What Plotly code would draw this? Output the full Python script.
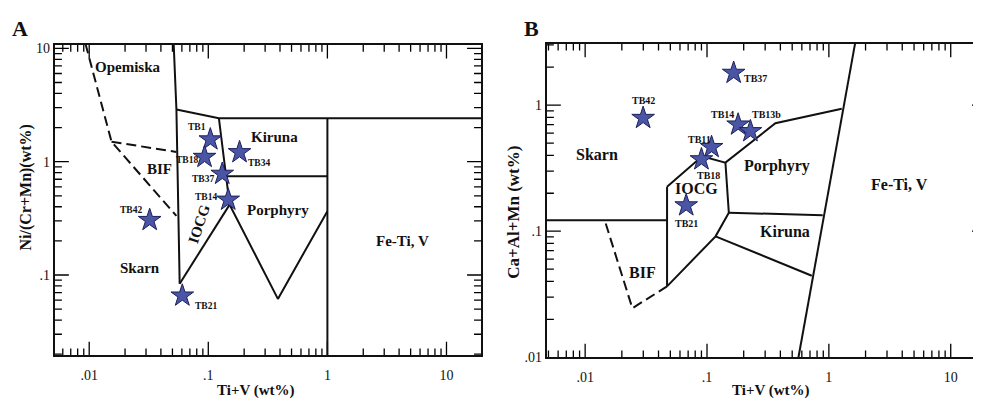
import numpy as np
import plotly.graph_objects as go

# ---------------- data ----------------
# Panel A : Ni/(Cr+Mn) vs Ti+V
a_samples = ["TB1", "TB18", "TB34", "TB37", "TB14", "TB42", "TB21"]
a_tiv = [0.104, 0.093, 0.183, 0.131, 0.147, 0.0322, 0.0605]
a_ni = [1.57, 1.10, 1.21, 0.78, 0.461, 0.305, 0.0657]

# Panel B : Ca+Al+Mn vs Ti+V
b_samples = ["TB37", "TB42", "TB14", "TB13b", "TB11", "TB18", "TB21"]
b_tiv = [0.1655, 0.0299, 0.180, 0.227, 0.109, 0.090, 0.0675]
b_caalmn = [1.80, 0.79, 0.70, 0.62, 0.464, 0.371, 0.160]

# field boundaries, panel A (solid)
a_solid = [
    ([0.0512, 0.054, 0.0575], [11.0, 2.89, 0.0838]),
    ([0.054, 0.1227, 25.0], [2.89, 2.42, 2.42]),
    ([0.1227, 0.151, 0.384, 1.0], [2.42, 0.418, 0.0615, 0.366]),
    ([0.0575, 0.151], [0.0838, 0.418]),
    ([0.141, 1.0], [0.744, 0.744]),
    ([1.0, 1.0], [2.42, 0.015]),
]
# field boundaries, panel A (dashed)
a_dash = [
    ([0.0093, 0.0154, 0.054], [11.0, 1.5, 0.332]),
    ([0.0154, 0.054], [1.5, 1.22]),
]
# field boundaries, panel B (solid)
b_solid = [
    ([0.004, 0.047], [0.122, 0.122]),
    ([0.047, 0.047], [0.225, 0.0365]),
    ([0.047, 0.0912, 0.1416, 0.364, 1.276], [0.225, 0.393, 0.350, 0.718, 0.937]),
    ([0.1416, 0.151, 0.1175, 0.047], [0.350, 0.140, 0.091, 0.0365]),
    ([0.151, 0.891], [0.140, 0.134]),
    ([0.1175, 0.724], [0.091, 0.0443]),
    ([0.563, 1.64], [0.0100, 3.07]),
]
# field boundaries, panel B (dashed)
b_dash = [
    ([0.01475, 0.0244, 0.047], [0.115, 0.0245, 0.0365]),
]

# field names
a_fields = ["Opemiska", "Kiruna", "BIF", "Porphyry", "Skarn", "Fe-Ti, V"]
a_field_x = [0.0212, 0.36, 0.0391, 0.384, 0.0266, 4.27]
a_field_y = [6.79, 1.64, 0.86, 0.371, 0.116, 0.199]
a_iocg = ("IOCG", 0.0836, 0.282)

b_fields = ["Skarn", "IOCG", "Porphyry", "Fe-Ti, V", "Kiruna", "BIF"]
b_field_x = [0.0124, 0.0815, 0.375, 3.83, 0.438, 0.0294]
b_field_y = [0.405, 0.218, 0.33, 0.234, 0.100, 0.047]

# tick labels
major_vals = [0.01, 0.1, 1, 10]
major_text = [".01", ".1", "1", "10"]
minor_vals = [m * 10.0 ** e for e in range(-3, 2) for m in range(2, 10)]

# ---------------- style / layout helpers ----------------
OFF = 8                      # default page margin of the browser body
FW, FH = 981 - OFF, 406 - OFF
SERIF = "Liberation Serif"
INK = "#111111"
STAR_FILL = "#4b55a6"
STAR_LINE = "#1c2157"
MAJ_LEN, MIN_LEN = 14, 7


def px(sx):
    return (sx - OFF) / FW


def py(sy):
    return 1 - (sy - OFF) / FH


# plot frames in screen pixels: left, right, top, bottom
A_BOX = (55, 482, 42, 362)
B_BOX = (548, 981, 40.7, 364)
ax_a, ay_a = [-2.288, 1.29], [-1.709, 1.03]
bx_b, by_b = [-2.314, 1.232], [-2.0, 0.487]

# label offsets (px) for sample names
a_off = {"TB1": (-13, 12), "TB18": (-18, -3), "TB34": (19, -11), "TB37": (-19, -5),
         "TB14": (-22, 3), "TB42": (-19, 10), "TB21": (24, -10)}
b_off = {"TB37": (22, -6), "TB42": (0, 18), "TB14": (-16, 10), "TB13b": (16, 17),
         "TB11": (-12, 8), "TB18": (7, -16), "TB21": (0, -18)}

fig = go.Figure()


def add_lines(segs, xa, ya, dash):
    for xs, ys in segs:
        fig.add_trace(go.Scatter(x=xs, y=ys, mode="lines", xaxis=xa, yaxis=ya,
                                 line=dict(color=INK, width=2, dash=dash),
                                 hoverinfo="skip", showlegend=False))


# ---- inside tick marks on all four sides, placed through the axis scales ----
def add_ticks(xa, ya, xr, yr, box, right_minor=True):
    wpx, hpx = box[1] - box[0], box[3] - box[2]
    xs, ys = [], []
    for vals, ln, is_major in [(major_vals, MAJ_LEN, True), (minor_vals, MIN_LEN, False)]:
        dly = ln * (yr[1] - yr[0]) / hpx
        dlx = ln * (xr[1] - xr[0]) / wpx
        for v in vals:
            lv = np.log10(v)
            if xr[0] < lv < xr[1]:
                xs += [v, v, None, v, v, None]
                ys += [10 ** yr[0], 10 ** (yr[0] + dly), None,
                       10 ** yr[1], 10 ** (yr[1] - dly), None]
            if yr[0] < lv < yr[1]:
                xs += [10 ** xr[0], 10 ** (xr[0] + dlx), None]
                ys += [v, v, None]
                if right_minor or is_major:
                    rl = dlx if right_minor else dlx / 2
                    xs += [10 ** xr[1], 10 ** (xr[1] - rl), None]
                    ys += [v, v, None]
    fig.add_trace(go.Scatter(x=xs, y=ys, mode="lines", xaxis=xa, yaxis=ya,
                             line=dict(color="black", width=1.3), hoverinfo="skip",
                             showlegend=False))


add_ticks("x", "y", ax_a, ay_a, A_BOX)
add_ticks("x2", "y2", bx_b, by_b, B_BOX, right_minor=False)

add_lines(a_solid, "x", "y", "solid")
add_lines(a_dash, "x", "y", "10px,5px")
add_lines(b_solid, "x2", "y2", "solid")
add_lines(b_dash, "x2", "y2", "10px,5px")

for xs, ys, xa, ya in [(a_tiv, a_ni, "x", "y"), (b_tiv, b_caalmn, "x2", "y2")]:
    fig.add_trace(go.Scatter(x=xs, y=ys, mode="markers", xaxis=xa, yaxis=ya,
                             marker=dict(symbol="star", size=17, color=STAR_FILL,
                                         line=dict(color=STAR_LINE, width=1)),
                             showlegend=False))

ann = []
for name, x, y in zip(a_samples, a_tiv, a_ni):
    dx, dy = a_off[name]
    ann.append(dict(x=np.log10(x), y=np.log10(y), xref="x", yref="y", text="<b>%s</b>" % name,
                    showarrow=False, xshift=dx, yshift=dy,
                    font=dict(family=SERIF, size=9.5, color=INK)))
for name, x, y in zip(b_samples, b_tiv, b_caalmn):
    dx, dy = b_off[name]
    ann.append(dict(x=np.log10(x), y=np.log10(y), xref="x2", yref="y2", text="<b>%s</b>" % name,
                    showarrow=False, xshift=dx, yshift=dy,
                    font=dict(family=SERIF, size=10, color=INK)))
for name, x, y in zip(a_fields, a_field_x, a_field_y):
    ann.append(dict(x=np.log10(x), y=np.log10(y), xref="x", yref="y", text="<b>%s</b>" % name,
                    showarrow=False, font=dict(family=SERIF, size=15, color=INK)))
ann.append(dict(x=np.log10(a_iocg[1]), y=np.log10(a_iocg[2]), xref="x", yref="y",
                text="<b>%s</b>" % a_iocg[0], showarrow=False, textangle=-72,
                font=dict(family=SERIF, size=15, color=INK)))
for name, x, y in zip(b_fields, b_field_x, b_field_y):
    ann.append(dict(x=np.log10(x), y=np.log10(y), xref="x2", yref="y2", text="<b>%s</b>" % name,
                    showarrow=False, font=dict(family=SERIF, size=16, color=INK)))


def paper_text(text, sx, sy, size, angle=0):
    ann.append(dict(x=px(sx), y=py(sy), xref="paper", yref="paper", text=text,
                    xanchor="center", yanchor="middle", showarrow=False, textangle=angle,
                    font=dict(family=SERIF, size=size, color=INK)))


paper_text("<b>A</b>", 20, 25, 22)
paper_text("<b>B</b>", 533, 25, 22)
paper_text("<b>Ti+V (wt%)</b>", 257, 398, 15)
paper_text("<b>Ti+V (wt%)</b>", 773, 398, 15)
paper_text("<b>Ni/(Cr+Mn)(wt%)</b>", 26, 189, 16, -90)
paper_text("<b>Ca+Al+Mn (wt%)</b>", 515, 214, 17, -90)


def axis(domain, rng, anchor, standoff):
    return dict(type="log", domain=domain, range=rng, anchor=anchor,
                tickmode="array", tickvals=major_vals, ticktext=major_text, ticks="",
                showline=True, linewidth=2, linecolor=INK, mirror=True,
                showgrid=False, zeroline=False, ticklabelstandoff=standoff,
                tickfont=dict(family=SERIF, size=14, color=INK))


fig.update_layout(
    width=FW, height=FH, margin=dict(l=0, r=0, t=0, b=0),
    paper_bgcolor="white", plot_bgcolor="white", showlegend=False,
    xaxis=axis([px(A_BOX[0]), px(A_BOX[1])], ax_a, "y", 6),
    yaxis=axis([py(A_BOX[3]), py(A_BOX[2])], ay_a, "x", 0),
    xaxis2=axis([px(B_BOX[0]), 1.0], bx_b, "y2", 6),
    yaxis2=axis([py(B_BOX[3]), py(B_BOX[2])], by_b, "x2", 0),
    annotations=ann,
)

fig.write_html("out.html")
